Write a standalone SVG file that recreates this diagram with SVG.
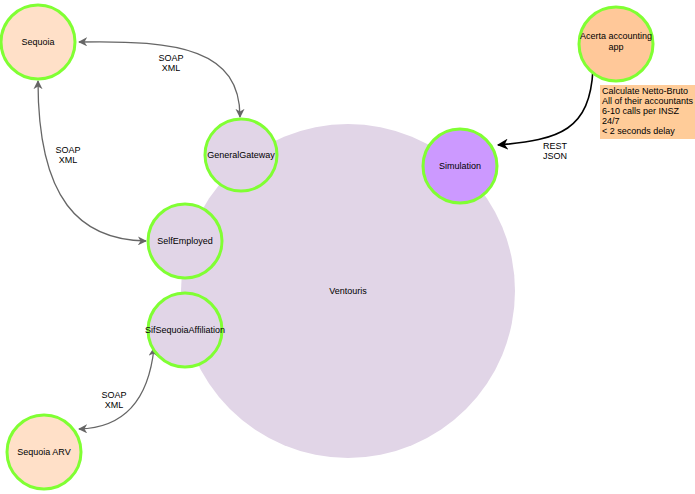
<svg xmlns="http://www.w3.org/2000/svg" width="695" height="494" viewBox="0 0 695 494">
<style>
text{font-family:"Liberation Sans",Arial,sans-serif;font-size:9px;fill:#000;text-anchor:middle}
.n{stroke:#80ff33;stroke-width:3}
.o{fill:#ffe0c8}
.p{fill:#e1d5e7}
.e{fill:none;stroke:#666;stroke-width:1.3}
</style>
<defs>
<marker id="a" viewBox="0 0 10 10" refX="9" refY="5" markerWidth="7" markerHeight="7" orient="auto-start-reverse"><path d="M0,0L10,5L0,10L3,5z" fill="#666"/></marker>
<marker id="b" viewBox="0 0 10 10" refX="9" refY="5" markerWidth="7" markerHeight="7" orient="auto"><path d="M0,0L10,5L0,10L3,5z" fill="#000"/></marker>
</defs>
<g id="ventouris"><circle cx="348" cy="291" r="167" fill="#e1d5e7"/><text x="348" y="294">Ventouris</text></g>
<g id="connectors">
<path class="e" d="M79,42 C180,40 240,50 240,117" marker-start="url(#a)" marker-end="url(#a)"/>
<path class="e" d="M38,81 C38,200 80,240 146,241" marker-start="url(#a)" marker-end="url(#a)"/>
<path class="e" d="M154,348 C148,405 120,428 79,429" marker-start="url(#a)" marker-end="url(#a)"/>
<path d="M593,69 C590,130 560,140 498,145" fill="none" stroke="#000" stroke-width="1.6" marker-end="url(#b)"/>
<text x="171" y="61">SOAP</text><text x="171" y="71">XML</text>
<text x="68" y="153">SOAP</text><text x="68" y="163">XML</text>
<text x="114" y="398">SOAP</text><text x="114" y="408">XML</text>
<text x="555" y="149">REST</text><text x="555" y="159">JSON</text>
</g>
<g id="sequoia"><circle class="n o" cx="38" cy="42" r="37"/><text x="38" y="45">Sequoia</text></g>
<g id="generalgateway"><circle class="n p" cx="241" cy="155" r="36"/><text x="241" y="158">GeneralGateway</text></g>
<g id="selfemployed"><circle class="n p" cx="185" cy="241" r="37"/><text x="185" y="244">SelfEmployed</text></g>
<g id="sif"><circle class="n p" cx="185" cy="330" r="37"/><text x="185" y="333">SifSequoiaAffiliation</text></g>
<g id="sequoiaarv"><circle class="n o" cx="44" cy="452" r="37"/><text x="44" y="455">Sequoia ARV</text></g>
<g id="acerta"><circle class="n" fill="#ffc899" cx="616" cy="44" r="37"/><text x="616" y="39">Acerta accounting</text><text x="616" y="50">app</text></g>
<g id="simulation"><circle class="n" fill="#cc99ff" cx="460" cy="166" r="37"/><text x="460" y="169">Simulation</text></g>
<g id="note"><rect x="600" y="85" width="95" height="54" fill="#ffcc99"/>
<text x="602" y="94" style="text-anchor:start">Calculate Netto-Bruto</text>
<text x="602" y="104" style="text-anchor:start">All of their accountants</text>
<text x="602" y="114" style="text-anchor:start">6-10 calls per INSZ</text>
<text x="602" y="124" style="text-anchor:start">24/7</text>
<text x="602" y="134" style="text-anchor:start">&lt; 2 seconds delay</text></g>
</svg>
